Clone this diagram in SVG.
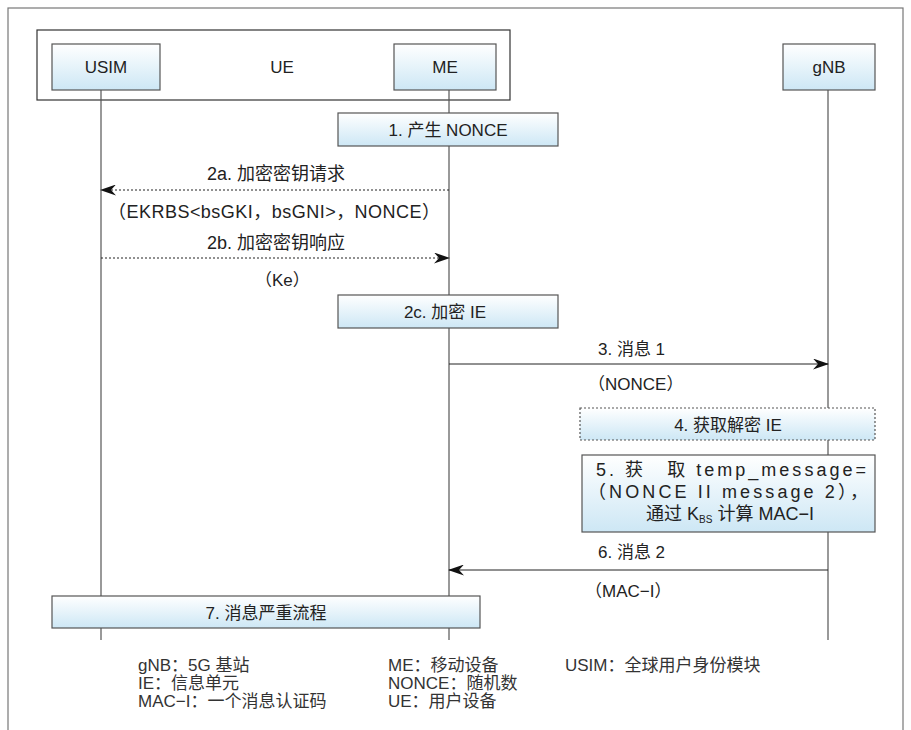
<svg xmlns="http://www.w3.org/2000/svg" width="911" height="730" viewBox="0 0 911 730">
<defs>
<linearGradient id="g" x1="0" y1="0" x2="0" y2="1">
<stop offset="0" stop-color="#ffffff"/>
<stop offset="1" stop-color="#cde7f5"/>
</linearGradient>
<marker id="ah" markerWidth="16" markerHeight="11" refX="15" refY="5.5" orient="auto" markerUnits="userSpaceOnUse">
<path d="M0,0 L16,5.5 L0,11 L5,5.5 Z" fill="#111"/>
</marker>
</defs>
<style>
text{font-family:"Liberation Sans","Noto Sans CJK SC",sans-serif;font-size:17px;fill:#222}
.c{text-anchor:middle}
.b{font-size:18px}
.box{fill:url(#g);stroke:#555;stroke-width:1.2}
.life{stroke:#555;stroke-width:1.2;fill:none}
.msg{stroke:#222;stroke-width:1;fill:none;marker-end:url(#ah)}
.dot{stroke-dasharray:2,2}
.leg{fill:#333}
</style>
<rect x="8" y="8" width="895" height="740" fill="#fff" stroke="#777" stroke-width="1.2"/>
<g id="UE">
<rect x="37" y="30" width="473" height="70" fill="#fff" stroke="#333" stroke-width="1.2"/>
<text class="c" x="282" y="73">UE</text>
</g>
<g id="lifelines">
<line class="life" x1="101" y1="90" x2="101" y2="640"/>
<line class="life" x1="449" y1="90" x2="449" y2="640"/>
<line class="life" x1="828" y1="90" x2="828" y2="640"/>
</g>
<g id="USIM">
<rect class="box" x="52" y="44" width="108" height="46"/>
<text class="c" x="106" y="73">USIM</text>
</g>
<g id="ME">
<rect class="box" x="394" y="44" width="102" height="46"/>
<text class="c" x="445" y="73">ME</text>
</g>
<g id="gNB">
<rect class="box" x="783" y="44" width="92" height="46"/>
<text class="c" x="829" y="73">gNB</text>
</g>
<g id="step1">
<rect class="box" x="338" y="113" width="220" height="33"/>
<text class="c" x="448" y="136">1. 产生 NONCE</text>
</g>
<g id="connectors">
<line class="msg dot" x1="449" y1="190" x2="101" y2="190"/>
<line class="msg dot" x1="101" y1="258" x2="449" y2="258"/>
<line class="msg" x1="449" y1="364" x2="828" y2="364"/>
<line class="msg" x1="828" y1="570" x2="449" y2="570"/>
</g>
<g id="labels">
<text class="c b" x="276" y="180">2a. 加密密钥请求</text>
<text class="b" x="108" y="218" textLength="332" lengthAdjust="spacing">（EKRBS&lt;bsGKI，bsGNI&gt;，NONCE）</text>
<text class="c b" x="276" y="249">2b. 加密密钥响应</text>
<text x="255" y="286">（Ke）</text>
<text x="598" y="355">3. 消息 1</text>
<text x="588" y="390">（NONCE）</text>
<text x="598" y="558">6. 消息 2</text>
<text x="585" y="597">（MAC−I）</text>
</g>
<g id="step2c">
<rect class="box" x="338" y="295" width="220" height="33"/>
<text class="c" x="445" y="318">2c. 加密 IE</text>
</g>
<g id="step4">
<rect class="box dot" x="580" y="408" width="295" height="32"/>
<text class="c" x="728" y="431">4. 获取解密 IE</text>
</g>
<g id="step5">
<rect class="box" x="582" y="455" width="293" height="77"/>
<text class="b" x="596" y="476" textLength="270" lengthAdjust="spacing">5. 获　取 temp_message=</text>
<text class="b" x="588" y="498" textLength="280" lengthAdjust="spacing">（NONCE II message 2），</text>
<text class="c b" x="730" y="520">通过 K<tspan font-size="10" dy="3">BS</tspan><tspan dy="-3"> 计算 MAC−I</tspan></text>
</g>
<g id="step7">
<rect class="box" x="52" y="596" width="428" height="32"/>
<text class="c" x="266" y="619">7. 消息严重流程</text>
</g>
<g id="legend">
<text class="leg" x="138" y="671">gNB：5G 基站</text>
<text class="leg" x="138" y="689">IE：信息单元</text>
<text class="leg" x="138" y="707">MAC−I：一个消息认证码</text>
<text class="leg" x="388" y="671">ME：移动设备</text>
<text class="leg" x="388" y="689">NONCE：随机数</text>
<text class="leg" x="388" y="707">UE：用户设备</text>
<text class="leg" x="565" y="671">USIM：全球用户身份模块</text>
</g>
</svg>
